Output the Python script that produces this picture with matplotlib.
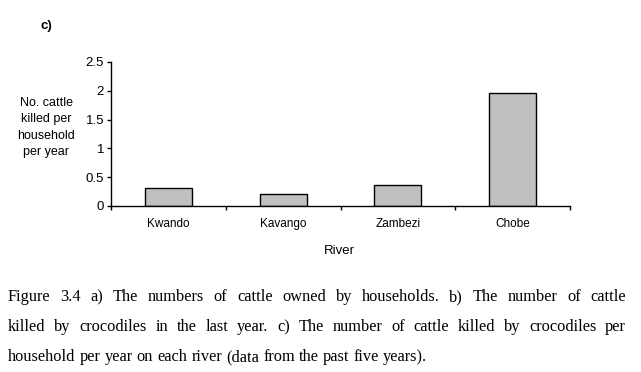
import matplotlib
matplotlib.use("Agg")
import matplotlib.pyplot as plt
import numpy as np

rivers = ["Kwando", "Kavango", "Zambezi", "Chobe"]
cattle_killed = [0.31, 0.21, 0.36, 1.97]
yticks = [0, 0.5, 1, 1.5, 2, 2.5]
ytick_labels = ["0", "0.5", "1", "1.5", "2", "2.5"]

caption_lines = [
    "Figure 3.4 a) The numbers of cattle owned by households. b) The number of cattle",
    "killed by crocodiles in the last year. c) The number of cattle killed by crocodiles per",
    "household per year on each river (data from the past five years).",
]

plt.rcParams['font.family'] = ['Liberation Sans', 'DejaVu Sans']

W, H = 641, 372
fig = plt.figure(figsize=(W / 100, H / 100), dpi=100)
ax = fig.add_axes([111 / W, 1 - 206 / H, (570 - 111) / W, (206 - 62) / H])

x = np.arange(len(rivers))
ax.bar(x, cattle_killed, width=0.41, color='#c0c0c0', edgecolor='black', linewidth=1.0)

ax.set_xlim(-0.5, len(rivers) - 0.5)
ax.set_ylim(0, 2.5)
ax.spines['top'].set_visible(False)
ax.spines['right'].set_visible(False)
ax.spines['left'].set_linewidth(1.0)
ax.spines['bottom'].set_linewidth(1.0)

ax.set_yticks(yticks)
ax.set_yticklabels(ytick_labels, fontsize=9.5)
ax.tick_params(axis='y', direction='out', length=3, width=1, pad=2)

ax.set_xticks(x)
ax.set_xticklabels(rivers, fontsize=8.5)
ax.tick_params(axis='x', which='major', length=0, pad=8.5)
ax.set_xticks(np.arange(-0.5, len(rivers), 1.0), minor=True)
ax.tick_params(axis='x', which='minor', direction='out', length=3, width=1)

fig.text(339 / W, 1 - 251 / H, "River", fontsize=9.5, ha='center', va='center')
fig.text(46 / W, 1 - 127.5 / H, "No. cattle\nkilled per\nhousehold\nper year",
         fontsize=9, ha='center', va='center', linespacing=1.47)
fig.text(46 / W, 1 - 26 / H, "c)", fontsize=9.5, fontweight='bold', ha='center', va='center')

# justified caption
renderer = fig.canvas.get_renderer()
cap_size = 11.8
x0, x1 = 8, 626
line_y = [301, 331, 361]
for i, line in enumerate(caption_lines):
    words = line.split(" ")
    texts = [fig.text(0, 1 - line_y[i] / H, w, fontsize=cap_size, family='Liberation Serif',
                      ha='left', va='baseline') for w in words]
    widths = [t.get_window_extent(renderer).width for t in texts]
    if i < len(caption_lines) - 1:
        gap = (x1 - x0 - sum(widths)) / (len(words) - 1)
    else:
        s1 = fig.text(0, 0, "a a", fontsize=cap_size, family='Liberation Serif')
        s2 = fig.text(0, 0, "aa", fontsize=cap_size, family='Liberation Serif')
        gap = s1.get_window_extent(renderer).width - s2.get_window_extent(renderer).width
        s1.remove()
        s2.remove()
    pos = x0
    for t, w in zip(texts, widths):
        t.set_x(pos / W)
        pos += w + gap

fig.savefig("out.png", dpi=100)
